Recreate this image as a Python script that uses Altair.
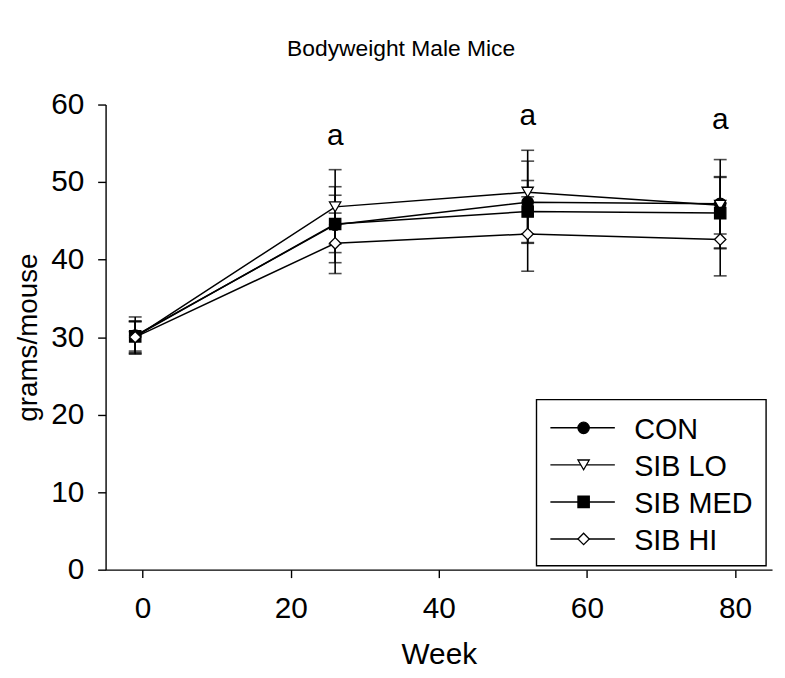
import altair as alt
import pandas as pd

# ---- data ----
weeks = [-1, 26, 52, 78]
series = ["CON", "SIB LO", "SIB MED", "SIB HI"]
con_mean = [30.2, 44.5, 47.4, 47.2]
con_sd = [2.4, 4.9, 5.3, 5.7]
lo_mean = [30.0, 46.8, 48.7, 47.0]
lo_sd = [2.0, 4.8, 5.4, 3.7]
med_mean = [30.1, 44.6, 46.2, 46.0]
med_sd = [1.9, 3.7, 4.0, 4.6]
hi_mean = [30.0, 42.1, 43.3, 42.6]
hi_sd = [2.1, 3.9, 4.8, 4.7]
sig_weeks = [26, 52, 78]
sig_y = [55.9, 58.5, 58.0]
sig_text = ["a", "a", "a"]
x_ticks = [0, 20, 40, 60, 80]
y_ticks = [0, 10, 20, 30, 40, 50, 60]

means = [con_mean, lo_mean, med_mean, hi_mean]
sds = [con_sd, lo_sd, med_sd, hi_sd]
rows = []
for i, (s, m, sd) in enumerate(zip(series, means, sds)):
    for w, mv, sv in zip(weeks, m, sd):
        rows.append({"series": s, "order": i, "week": w, "mean": mv,
                     "low": mv - sv, "high": mv + sv})
df = pd.DataFrame(rows)
sig_df = pd.DataFrame({"week": sig_weeks, "y": sig_y, "t": sig_text})
leg_df = pd.DataFrame({"series": series})
box_df = pd.DataFrame({"k": [0]})

FONT = "Liberation Sans"
xscale = alt.Scale(domain=[-5, 85], nice=False, zero=False)
yscale = alt.Scale(domain=[0, 60], nice=False, zero=False)
shape_scale = alt.Scale(domain=series, range=["circle", "triangle-down", "square", "diamond"])
fill_scale = alt.Scale(domain=series, range=["black", "white", "black", "white"])

x_axis = alt.Axis(values=x_ticks, title="Week", labelPadding=16, titlePadding=17)
x_main = alt.X("week:Q", scale=xscale, axis=x_axis)

lines = alt.Chart(df).mark_line(color="black", strokeWidth=1.5).encode(
    x=x_main,
    y=alt.Y("mean:Q", scale=yscale,
            axis=alt.Axis(values=y_ticks, title="grams/mouse", labelPadding=14, titlePadding=8,
                          titleFontSize=28)),
    detail="series:N",
    order="week:Q",
)
bars = alt.Chart(df).mark_rule(color="black", strokeWidth=1.6).encode(
    x=x_main, y=alt.Y("low:Q", scale=yscale, axis=None), y2="high:Q")
cap_lo = alt.Chart(df).mark_tick(orient="horizontal", size=13, thickness=1.6, color="black").encode(
    x=x_main, y=alt.Y("low:Q", scale=yscale, axis=None))
cap_hi = alt.Chart(df).mark_tick(orient="horizontal", size=13, thickness=1.6, color="black").encode(
    x=x_main, y=alt.Y("high:Q", scale=yscale, axis=None))
points = alt.Chart(df).mark_point(filled=True, stroke="black", strokeWidth=1.3, size=130, opacity=1).encode(
    x=x_main, y=alt.Y("mean:Q", scale=yscale, axis=None),
    shape=alt.Shape("series:N", scale=shape_scale, legend=None),
    fill=alt.Fill("series:N", scale=fill_scale, legend=None),
    order="order:Q",
)
letters = alt.Chart(sig_df).mark_text(font=FONT, fontSize=30, color="black", baseline="middle").encode(
    x=x_main, y=alt.Y("y:Q", scale=yscale, axis=None), text="t:N")

# ---- legend (drawn inside the plot, lower right) ----
leg_y = alt.Y("series:N", scale=alt.Scale(type="point", domain=series, range=[326, 438], padding=0), axis=None)
box = alt.Chart(box_df).mark_rect(fill="white", stroke="black", strokeWidth=1.4).encode(
    x=alt.value(434.5), x2=alt.value(666), y=alt.value(297.5), y2=alt.value(465))
leg_lines = alt.Chart(leg_df).mark_rule(color="black", strokeWidth=1.5).encode(
    x=alt.value(448.5), x2=alt.value(513.5), y=leg_y)
leg_pts = alt.Chart(leg_df).mark_point(filled=True, stroke="black", strokeWidth=1.3, size=130, opacity=1).encode(
    x=alt.value(482), y=leg_y,
    shape=alt.Shape("series:N", scale=shape_scale, legend=None),
    fill=alt.Fill("series:N", scale=fill_scale, legend=None))
leg_text = alt.Chart(leg_df).mark_text(font=FONT, fontSize=29, color="black", align="left",
                                       baseline="middle", dy=2).encode(
    x=alt.value(533), y=leg_y, text="series:N")

chart = alt.layer(
    lines, bars, cap_lo, cap_hi, points, letters,
    box, leg_lines, leg_pts, leg_text,
).resolve_scale(y="independent").properties(
    width=672, height=469,
    autosize=alt.AutoSizeParams(type="none"),
    padding={"left": 98.4, "top": 94.6, "right": 5, "bottom": 98},
    title=alt.TitleParams("Bodyweight Male Mice", font=FONT, fontSize=23, fontWeight="normal",
                          color="black", anchor="middle", dx=-38, offset=29),
).configure_view(stroke=None).configure_axis(
    domainColor="black", tickColor="black", labelColor="black", titleColor="black",
    labelFont=FONT, titleFont=FONT, labelFontSize=30, titleFontSize=30,
    titleFontWeight="normal", grid=False, tickSize=8, domainWidth=1.4, tickWidth=1.4,
)

chart.save("out.html", embed_options={"renderer": "svg", "actions": False})
